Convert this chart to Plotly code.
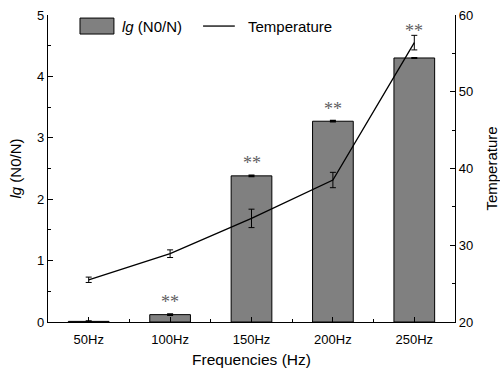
import plotly.graph_objects as go

categories = ["50Hz", "100Hz", "150Hz", "200Hz", "250Hz"]
lg_values = [0.01, 0.12, 2.38, 3.27, 4.30]
lg_errors = [0.005, 0.01, 0.01, 0.01, 0.005]
temp_values = [25.5, 28.9, 33.5, 38.5, 56.4]
temp_errors = [0.35, 0.5, 1.2, 1.0, 0.95]
sig_marks = ["", "**", "**", "**", "**"]

x = list(range(len(categories)))
FONT = "Liberation Sans, Arial, sans-serif"
y1_range = [0, 5]
y2_range = [20, 60]

fig = go.Figure()
fig.add_trace(go.Bar(
    x=x, y=lg_values, width=0.5,
    marker=dict(color="#808080", line=dict(color="black", width=1)),
    error_y=dict(type="data", array=lg_errors, color="black", thickness=1.5, width=3),
    showlegend=False, yaxis="y",
))
fig.add_trace(go.Scatter(
    x=x, y=temp_values, mode="lines",
    line=dict(color="black", width=1.3),
    error_y=dict(type="data", array=temp_errors, color="black", thickness=1, width=3),
    showlegend=False, yaxis="y2",
))

# significance marks (above the bar; lifted over the temperature point if it crowds them)
for xi, v, e, t, s in zip(x, lg_values, lg_errors, temp_values, sig_marks):
    if not s:
        continue
    t_in_y1 = (t - y2_range[0]) / (y2_range[1] - y2_range[0]) * (y1_range[1] - y1_range[0])
    top = v + e
    if 0 < t_in_y1 - top < 0.5:
        top = t_in_y1
    fig.add_annotation(x=xi, y=top, xref="x", yref="y", text=s, showarrow=False,
                       yanchor="bottom", yshift=0,
                       font=dict(family="Liberation Serif, Times New Roman, serif", size=18, color="#606060"))

axis_common = dict(showline=True, linecolor="black", linewidth=1.3,
                   ticks="inside", ticklen=5, tickwidth=1.2, tickcolor="black",
                   showgrid=False, zeroline=False, automargin=False,
                   tickfont=dict(family=FONT, size=13, color="black"))

fig.update_layout(
    width=500, height=370,
    margin=dict(l=48, r=45, t=15, b=48),
    plot_bgcolor="white", paper_bgcolor="white",
    xaxis=dict(range=[-0.5, 4.5], tickvals=x, ticktext=categories, ticklabelstandoff=5,
               minor=dict(dtick=0.5, tick0=0.5, ticks="inside", ticklen=3, tickcolor="black", tickwidth=1.2),
               title=dict(text="Frequencies (Hz)", font=dict(family=FONT, size=15.5, color="black"), standoff=8),
               **axis_common),
    yaxis=dict(range=y1_range, dtick=1,
               minor=dict(dtick=0.5, ticks="inside", ticklen=3, tickcolor="black", tickwidth=1.2),
               title=dict(text="<i>lg</i> (N0/N)", font=dict(family=FONT, size=15, color="black"), standoff=11),
               **axis_common),
    yaxis2=dict(range=y2_range, dtick=10, overlaying="y", side="right",
                minor=dict(dtick=5, ticks="inside", ticklen=3, tickcolor="black", tickwidth=1.2),
                title=dict(text="Temperature", font=dict(family=FONT, size=15, color="black"), standoff=18),
                **axis_common),
    showlegend=False,
)

# custom legend
fig.add_shape(type="rect", xref="paper", yref="paper", x0=0.0786, x1=0.162, y0=0.938, y1=0.99,
              fillcolor="#808080", line=dict(color="black", width=1))
fig.add_annotation(xref="paper", yref="paper", x=0.177, y=0.964, text="<i>lg</i> (N0/N)",
                   showarrow=False, xanchor="left", yanchor="middle",
                   font=dict(family=FONT, size=15, color="black"))
fig.add_shape(type="line", xref="paper", yref="paper", x0=0.381, x1=0.459, y0=0.964, y1=0.964,
              line=dict(color="black", width=1.3))
fig.add_annotation(xref="paper", yref="paper", x=0.486, y=0.964, text="Temperature",
                   showarrow=False, xanchor="left", yanchor="middle",
                   font=dict(family=FONT, size=15, color="black"))

fig.write_html("out.html")
